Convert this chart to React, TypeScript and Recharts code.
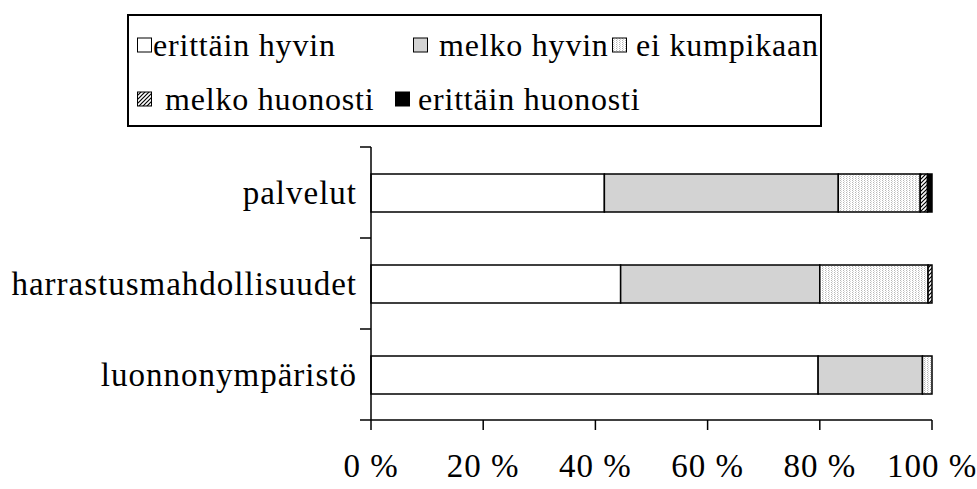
import React from 'react';
import { BarChart, Bar, XAxis, YAxis, Legend } from 'recharts';

const categories = ['palvelut', 'harrastusmahdollisuudet', 'luonnonympäristö'];
const erittainHyvin = [41.6, 44.5, 79.7];
const melkoHyvin = [41.7, 35.5, 18.6];
const eiKumpikaan = [14.6, 19.3, 1.7];
const melkoHuonosti = [1.3, 0.7, 0];
const erittainHuonosti = [0.8, 0, 0];
const xTicks = [0, 20, 40, 60, 80, 100];

const seriesNames = ['erittäin hyvin', 'melko hyvin', 'ei kumpikaan', 'melko huonosti', 'erittäin huonosti'];
const seriesFills = ['#ffffff', '#d3d3d3', 'url(#dots)', 'url(#hatch)', '#000000'];

const data = categories.map((name, i) => ({
  name,
  s0: erittainHyvin[i],
  s1: melkoHyvin[i],
  s2: eiKumpikaan[i],
  s3: melkoHuonosti[i],
  s4: erittainHuonosti[i],
}));

const FONT = "'Liberation Serif', 'Times New Roman', serif";
const FONT_SIZE = 33;
const SPACING = 1;
const textStyle = { fontFamily: FONT, fontSize: FONT_SIZE, letterSpacing: SPACING };

// legend item placement inside the box (square left, text left, row)
const legendLayout = [
  { sq: 10, tx: 26, row: 0 },
  { sq: 286, tx: 312, row: 0 },
  { sq: 485, tx: 509, row: 0 },
  { sq: 10, tx: 38, row: 1 },
  { sq: 268, tx: 291, row: 1 },
];

const CategoryTick = (props: any) => {
  const { x, y, payload, index, visibleTicksCount } = props;
  const half = typeof payload.offset === 'number' && payload.offset > 0 ? payload.offset : 45.5;
  const axisX = x + 11;
  return (
    <g>
      <line x1={x} x2={axisX} y1={y - half} y2={y - half} stroke="#000" strokeWidth={1.5} />
      {index === visibleTicksCount - 1 && (
        <line x1={x} x2={axisX} y1={y + half} y2={y + half} stroke="#000" strokeWidth={1.5} />
      )}
      <text x={x - 3} y={y} dy="0.35em" textAnchor="end" fill="#000" style={textStyle}>
        {payload.value}
      </text>
    </g>
  );
};

const PercentTick = (props: any) => {
  const { x, y, payload } = props;
  return (
    <text x={x} y={y} dy="0.71em" textAnchor="middle" fill="#000" style={textStyle}>
      {`${payload.value} %`}
    </text>
  );
};

const renderLegend = (props: any) => {
  const payload = [...(props.payload || [])].sort(
    (a: any, b: any) => seriesNames.indexOf(a.value) - seriesNames.indexOf(b.value)
  );
  return (
    <svg width={695} height={113} style={{ display: 'block' }}>
      <rect x={1} y={1} width={693} height={111} fill="#fff" stroke="#000" strokeWidth={2} />
      {payload.map((entry: any, i: number) => {
        const pos = legendLayout[i];
        const cy = pos.row === 0 ? 31 : 85;
        return (
          <g key={entry.value}>
            <rect x={pos.sq + 0.5} y={cy - 7} width={14} height={14} fill={entry.color} stroke="#000" strokeWidth={1} />
            <text
              x={pos.tx}
              y={cy}
              dy="0.35em"
              fill="#000"
              style={{ fontFamily: FONT, fontSize: 32, letterSpacing: 0.8 }}
            >
              {entry.value}
            </text>
          </g>
        );
      })}
    </svg>
  );
};

export default function App() {
  return (
    <div style={{ position: 'absolute', left: 0, top: 0, width: 977, height: 489, background: '#fff' }}>
      <BarChart
        width={977}
        height={489}
        data={data}
        layout="vertical"
        margin={{ top: 147, right: 45, left: 0, bottom: 0 }}
      >
        <defs>
          <pattern id="dots" width={3} height={2} patternUnits="userSpaceOnUse">
            <rect width={3} height={2} fill="#ffffff" />
            <rect x={0} y={0} width={1} height={1} fill="#b8b8b8" />
            <rect x={1} y={1} width={1} height={1} fill="#d8d8d8" />
          </pattern>
          <pattern id="hatch" width={4} height={4} patternUnits="userSpaceOnUse">
            <rect width={4} height={4} fill="#ffffff" />
            <path d="M-1,1 l2,-2 M0,4 l4,-4 M3,5 l2,-2" stroke="#000" strokeWidth={1.2} />
          </pattern>
        </defs>
        <XAxis
          type="number"
          domain={[0, 100]}
          ticks={xTicks}
          height={69}
          tickSize={10}
          tickMargin={24}
          axisLine={{ stroke: '#000', strokeWidth: 1.5 }}
          tickLine={{ stroke: '#000', strokeWidth: 1.5 }}
          tick={<PercentTick />}
          interval={0}
        />
        <YAxis
          type="category"
          dataKey="name"
          width={371}
          tickSize={11}
          tickMargin={0}
          tickLine={false}
          axisLine={{ stroke: '#000', strokeWidth: 1.5 }}
          tick={<CategoryTick />}
          interval={0}
        />
        <Legend
          content={renderLegend}
          layout="horizontal"
          align="center"
          verticalAlign="middle"
          wrapperStyle={{ top: 14, left: 127, width: 695, height: 113 }}
        />
        {seriesNames.map((name, i) => (
          <Bar
            key={name}
            dataKey={`s${i}`}
            name={name}
            stackId="a"
            fill={seriesFills[i]}
            stroke="#000"
            strokeWidth={1.5}
            barSize={38}
            isAnimationActive={false}
          />
        ))}
      </BarChart>
    </div>
  );
}
